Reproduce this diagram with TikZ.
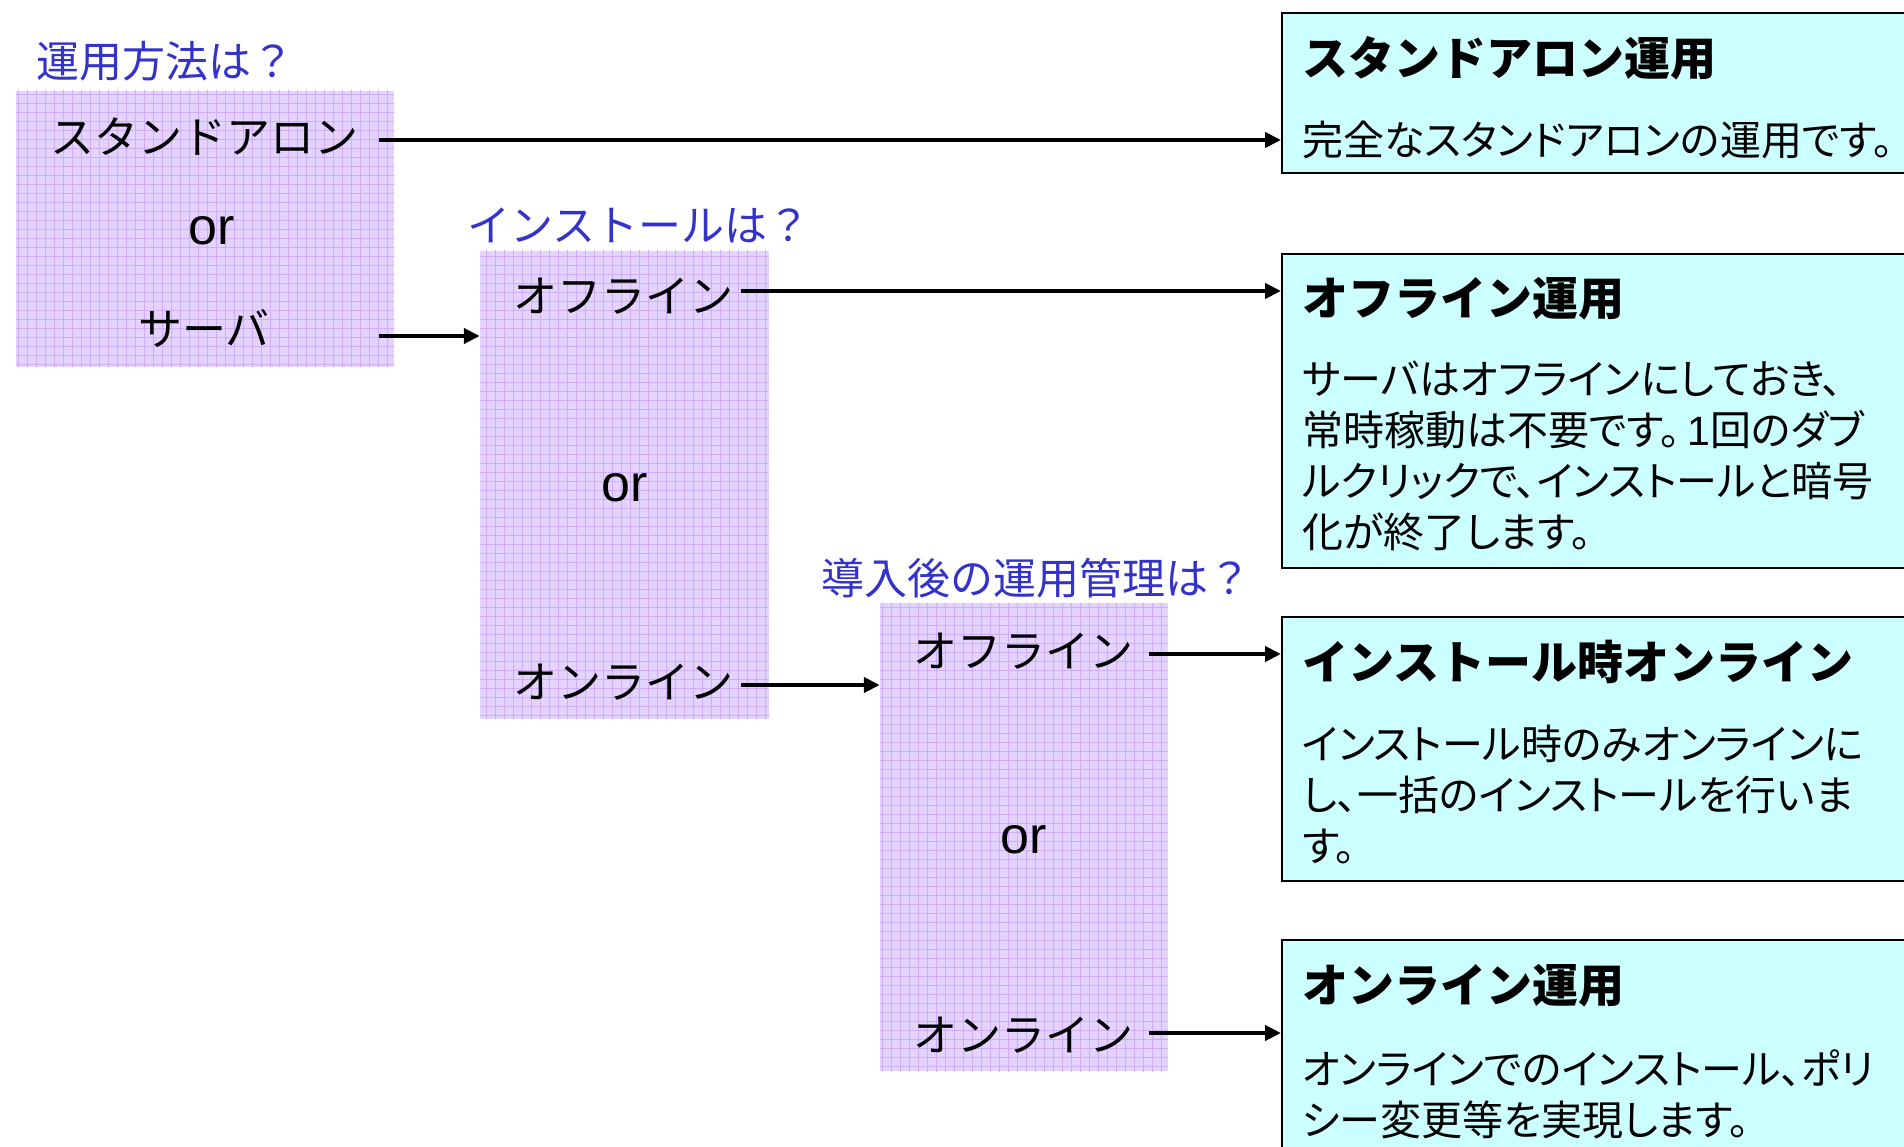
\documentclass[tikz,border=0pt]{standalone}
\usepackage{fontspec}
\setmainfont{Noto Sans CJK JP}
\newfontfamily\propjp[RawFeature=+palt]{Noto Sans CJK JP}
\newfontfamily\lat{Liberation Sans}
\usetikzlibrary{patterns.meta,arrows.meta}
\definecolor{lav}{RGB}{228,210,255}
\definecolor{gridc}{RGB}{206,172,250}
\definecolor{cyanbg}{RGB}{204,255,255}
\definecolor{qblue}{RGB}{51,51,204}
\tikzset{
 pbox/.style={fill=lav, draw=none, inner sep=0,
   postaction={pattern={Lines[angle=0,distance=9pt,line width=0.8pt]}, pattern color=gridc},
   postaction={pattern={Lines[angle=90,distance=9pt,line width=0.8pt]}, pattern color=gridc}},
 cbox/.style={fill=cyanbg, draw=black, line width=2pt, inner sep=0, minimum width=660, anchor=north west},
 opt/.style={inner sep=0, font=\fontsize{44}{50}\selectfont},
 ortext/.style={inner sep=0, font=\lat\fontsize{52}{58}\selectfont},
 quest/.style={inner sep=0, anchor=west, text=qblue, font=\fontsize{43}{48}\selectfont},
 ttl/.style={inner sep=0, anchor=west, font=\bfseries\fontsize{46}{52}\selectfont},
 body/.style={inner sep=0, anchor=west, align=left, font=\propjp\fontsize{41}{51}\selectfont},
 arr/.style={line width=4pt, -{Triangle[length=16pt,width=15pt]}},
}
\begin{document}
\begin{tikzpicture}[x=1pt,y=-1pt]
\useasboundingbox (0,0) rectangle (1904,1147);
\clip (0,0) rectangle (1904,1147);
% purple choice boxes
\node[pbox, minimum width=378, minimum height=276] (p1) at (205,229) {};
\node[pbox, minimum width=289, minimum height=468] (p2) at (624.5,485) {};
\node[pbox, minimum width=288, minimum height=468] (p3) at (1024,837) {};
% questions
\node[quest] (q1) at (36,61) {運用方法は？};
\node[quest] (q2) at (467,225) {インストールは？};
\node[quest] (q3) at (821,578) {導入後の運用管理は？};
% options
\node[opt] (sa) at (204,137) {スタンドアロン};
\node[ortext] (or1) at (212,231) {or};
\node[opt] (sv) at (204,328) {サーバ};
\node[opt] (off1) at (623,296) {オフライン};
\node[ortext] (or2) at (625,488) {or};
\node[opt] (on1) at (623,682) {オンライン};
\node[opt] (off2) at (1023,651) {オフライン};
\node[ortext] (or3) at (1024,840) {or};
\node[opt] (on2) at (1023,1035) {オンライン};
% result boxes
\node[cbox, minimum height=160] (c1) at (1281,12) {};
\node[cbox, minimum height=314] (c2) at (1281,253) {};
\node[cbox, minimum height=264] (c3) at (1281,616) {};
\node[cbox, minimum height=230] (c4) at (1281,939) {};
\node[ttl] (t1) at (1302,58) {スタンドアロン運用};
\node[body] (d1) at (1302,140) {完全なスタンドアロンの運用です。};
\node[ttl] (t2) at (1302,299) {オフライン運用};
\node[body] (d2) at (1302,456) {サーバはオフラインにしておき、\\常時稼動は不要です。\,{\lat 1}回のダブ\\ルクリックで、インストールと暗号\\化が終了します。};
\node[ttl] (t3) at (1302,662) {インストール時オンライン};
\node[body] (d3) at (1302,795) {インストール時のみオンラインに\\し、一括のインストールを行いま\\す。};
\node[ttl] (t4) at (1302,986) {オンライン運用};
\node[body] (d4) at (1302,1094) {オンラインでのインストール、ポリ\\シー変更等を実現します。};
% arrows
\coordinate (s1) at (379,140);
\coordinate (s2) at (379,336);
\coordinate (s3) at (741,291);
\coordinate (s4) at (741,685);
\coordinate (s5) at (1149,654);
\coordinate (s6) at (1149,1033);
\draw[arr] (s1) -- (s1 -| c1.west);
\draw[arr] (s2) -- (s2 -| p2.west);
\draw[arr] (s3) -- (s3 -| c2.west);
\draw[arr] (s4) -- (s4 -| p3.west);
\draw[arr] (s5) -- (s5 -| c3.west);
\draw[arr] (s6) -- (s6 -| c4.west);
\end{tikzpicture}
\end{document}
